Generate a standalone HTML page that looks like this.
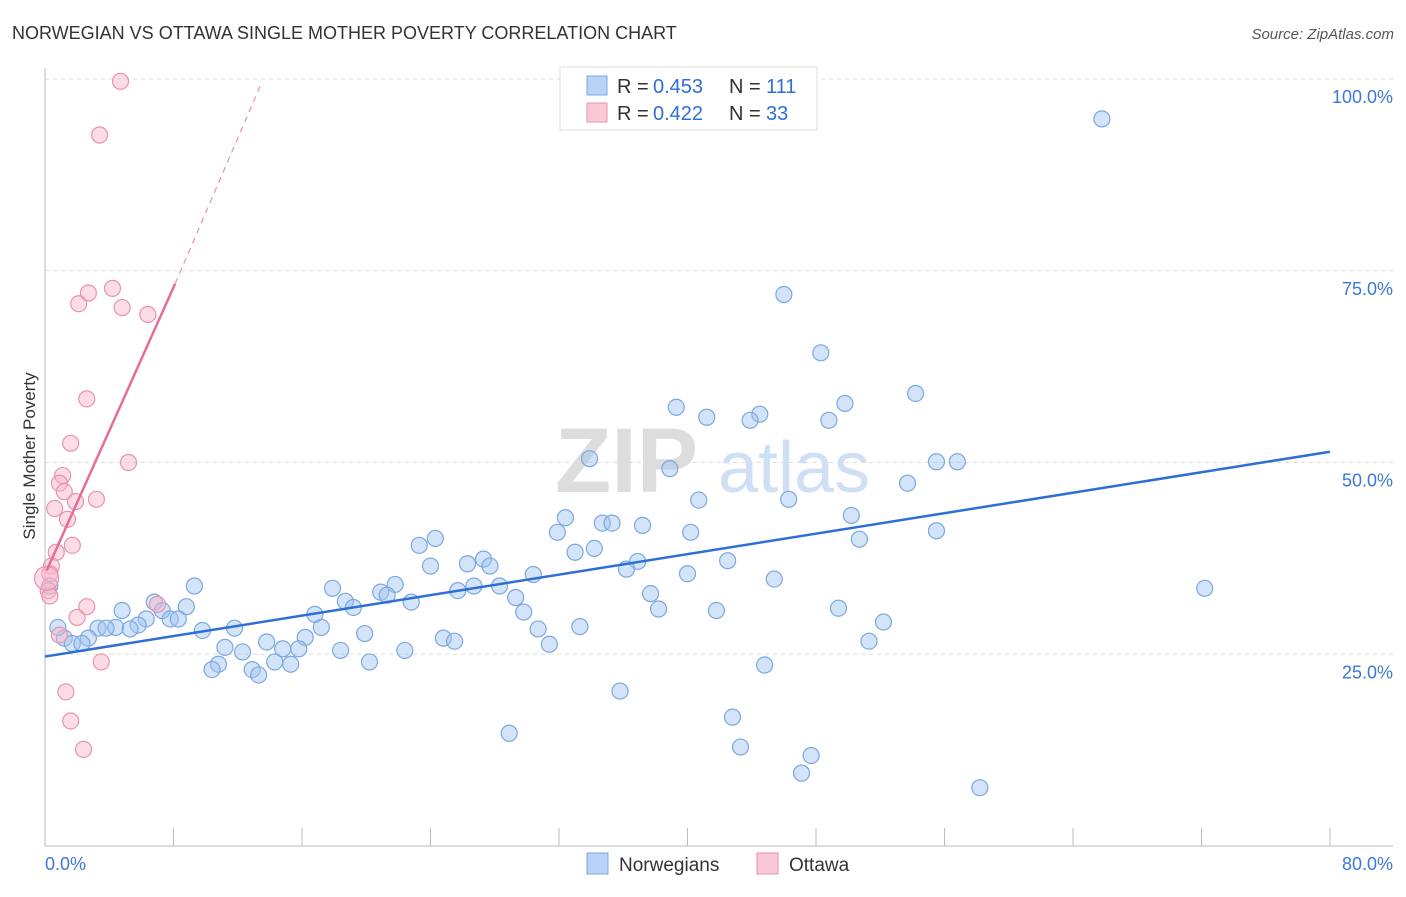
<!DOCTYPE html>
<html><head><meta charset="utf-8"><style>
body{margin:0;background:#fff;font-family:"Liberation Sans",sans-serif}
svg text{font-family:"Liberation Sans",sans-serif}
</style></head><body>
<svg id="c" width="1406" height="892">
<text x="12" y="39" font-size="18" fill="#333">NORWEGIAN VS OTTAWA SINGLE MOTHER POVERTY CORRELATION CHART</text>
<text x="1394" y="39" font-size="15" fill="#555" text-anchor="end" font-style="italic">Source: ZipAtlas.com</text>
<text x="35" y="456" font-size="17" fill="#333" text-anchor="middle" transform="rotate(-90 35 456)">Single Mother Poverty</text>
<g id="grid"></g>
<g id="wm"><text x="555" y="492" font-size="92" fill="#ddd" font-family="Liberation Serif" font-weight="bold">ZIP</text><text x="718" y="492" font-size="72" fill="#cfe0f5">atlas</text></g>
<g id="axes"></g>
<g id="pts"></g>
<g id="trend"></g>
<g>
<rect x="560" y="67" width="257" height="63" fill="#fff" stroke="#ddd"/>
<rect x="587" y="76" width="20" height="19" fill="#b8d3f5" stroke="#7aa8e0"/>
<text x="617" y="93" font-size="20" fill="#333">R =</text><text x="653" y="93" font-size="20" fill="#2d6fd6">0.453</text>
<text x="729" y="93" font-size="20" fill="#333">N =</text><text x="766" y="93" font-size="20" fill="#2d6fd6">111</text>
<rect x="587" y="103" width="20" height="19" fill="#fac9d8" stroke="#e893ae"/>
<text x="617" y="120" font-size="20" fill="#333">R =</text><text x="653" y="120" font-size="20" fill="#2d6fd6">0.422</text>
<text x="729" y="120" font-size="20" fill="#333">N =</text><text x="766" y="120" font-size="20" fill="#2d6fd6">33</text>
</g>
<g>
<rect x="587" y="853" width="21" height="21" fill="#b8d3f5" stroke="#7aa8e0"/>
<text x="619" y="871" font-size="19" fill="#333">Norwegians</text>
<rect x="757" y="853" width="21" height="21" fill="#fac9d8" stroke="#e893ae"/>
<text x="789" y="871" font-size="19" fill="#333">Ottawa</text>
</g>
</svg>
<script>
const blueX=[65.8,46.0,48.3,54.2,49.8,39.3,41.2,44.5,43.9,48.8,33.9,38.9,55.5,56.8,53.7,40.7,46.3,32.4,34.7,35.3,37.2,50.2,31.9,40.2,55.5,24.3,23.3,50.7,34.2,33.0,42.5,36.9,27.3,26.3,27.7,24.0,36.2,40.0,30.4,45.4,72.2,9.3,17.9,21.8,26.7,28.3,25.7,20.9,21.3,37.7,29.3,18.7,22.8,6.8,19.2,8.8,38.2,41.8,49.4,4.8,7.3,29.8,16.8,6.3,7.8,8.3,52.2,5.8,4.4,3.3,3.8,5.3,17.2,33.3,11.8,9.8,30.7,19.9,16.2,2.7,24.8,25.5,1.2,1.7,2.3,13.8,31.4,51.3,11.2,14.8,15.8,12.3,18.4,22.4,14.3,20.2,15.3,10.8,10.4,12.9,13.3,44.8,35.8,42.8,28.9,43.3,47.7,47.1,58.2,0.8,0.3];
const blueY=[94.8,71.9,64.3,59.0,57.7,57.2,55.9,56.3,55.5,55.5,50.5,49.2,50.1,50.1,47.3,45.1,45.2,42.8,42.1,42.1,41.8,43.1,40.9,40.9,41.1,40.1,39.2,40.0,38.8,38.3,37.2,37.1,37.4,36.8,36.5,36.5,36.1,35.5,35.4,34.8,33.6,33.9,33.6,34.1,33.9,33.9,33.3,33.1,32.7,32.9,32.4,31.9,31.8,31.8,31.1,31.2,30.9,30.7,31.0,30.7,30.7,30.5,30.2,29.6,29.6,29.6,29.2,28.8,28.5,28.4,28.4,28.3,28.5,28.6,28.4,28.1,28.3,27.7,27.2,27.1,27.1,26.7,27.1,26.4,26.4,26.6,26.3,26.7,25.9,25.7,25.7,25.3,25.5,25.5,24.0,24.0,23.7,23.7,23.0,23.0,22.3,23.6,20.2,16.8,14.7,12.9,11.8,9.5,7.6,28.5,33.9];
const blueBig=[111,112];
const pinkX=[4.7,3.4,4.2,2.7,2.1,4.8,6.4,2.6,1.6,5.2,1.1,0.9,1.2,3.2,1.9,0.6,1.4,1.7,0.7,0.4,0.3,0.2,0.3,2.6,7.0,2.0,0.9,3.5,1.3,1.6,2.4,0.1];
const pinkY=[99.7,92.7,72.7,72.1,70.7,70.2,69.3,58.3,52.5,50.0,48.3,47.3,46.2,45.2,44.9,44.0,42.6,39.2,38.3,36.5,35.5,33.3,32.6,31.2,31.5,29.8,27.5,24.0,20.1,16.3,12.6,34.9];
const blueTrend=[[0,24.7],[80,51.4]];
const pinkTrend=[[0.1,35.9],[8.1,73.3]];
const pinkDash=[[8.1,73.3],[13.4,99.1]];
const yTicks=[25,50,75,100];
const xTicks=[0,10,20,30,40,50,60,70,80];
const NS='http://www.w3.org/2000/svg';
const sx=v=>45+v*1285/80, sy=v=>846-v*7.67;
function mk(t,a,p){const e=document.createElementNS(NS,t);for(const k in a)e.setAttribute(k,a[k]);p.appendChild(e);return e;}
const grid=document.getElementById('grid'),axes=document.getElementById('axes'),pts=document.getElementById('pts'),tr=document.getElementById('trend');
yTicks.forEach(v=>{const l=mk('line',{x1:45,x2:1393,y1:sy(v),y2:sy(v),stroke:'#ddd','stroke-dasharray':'4,4'},grid);


const t=mk('text',{x:1393,y:sy(v)+24,'font-size':18,fill:'#3b78d8','text-anchor':'end'},axes);t.textContent=v.toFixed(1)+'%';

});
mk('line',{x1:45,x2:45,y1:68,y2:846,stroke:'#bbb'},axes);
mk('line',{x1:45,x2:1393,y1:846,y2:846,stroke:'#bbb'},axes);
for(let i=0;i<=10;i++){const x=45+i*128.5;mk('line',{x1:x,x2:x,y1:828,y2:846,stroke:'#bbb'},axes);}
let t=mk('text',{x:45,y:870,'font-size':18,fill:'#3b78d8'},axes);t.textContent='0.0%';

t=mk('text',{x:1393,y:870,'font-size':18,fill:'#3b78d8','text-anchor':'end'},axes);t.textContent='80.0%';

blueX.forEach((x,i)=>{const big=blueBig.includes(i);const c=mk('circle',{cx:sx(x),cy:sy(blueY[i]),r:big?14:8,fill:'rgba(160,195,240,0.45)',stroke:'#7aa8e0','stroke-width':1.2},pts);

});
pinkX.forEach((x,i)=>{const c=mk('circle',{cx:sx(x),cy:sy(pinkY[i]),r:i==31?12:8,fill:'rgba(248,180,200,0.45)',stroke:'#e893ae','stroke-width':1.2},pts);

});
let l=mk('line',{x1:sx(blueTrend[0][0]),y1:sy(blueTrend[0][1]),x2:sx(blueTrend[1][0]),y2:sy(blueTrend[1][1]),stroke:'#2d6fd6','stroke-width':2.5},tr);

l=mk('line',{x1:sx(pinkTrend[0][0]),y1:sy(pinkTrend[0][1]),x2:sx(pinkTrend[1][0]),y2:sy(pinkTrend[1][1]),stroke:'#e86c97','stroke-width':2.5},tr);

l=mk('line',{x1:sx(pinkDash[0][0]),y1:sy(pinkDash[0][1]),x2:sx(pinkDash[1][0]),y2:sy(pinkDash[1][1]),stroke:'#e893ae','stroke-width':1.2,'stroke-dasharray':'6,5'},tr);

</script>
</body></html>
